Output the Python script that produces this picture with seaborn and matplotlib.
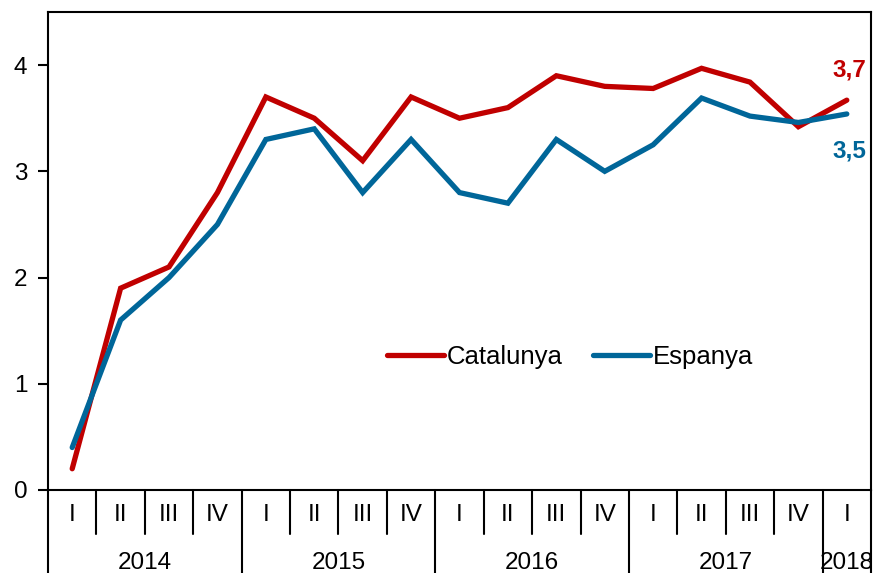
import numpy as np
import pandas as pd
import seaborn as sns
import matplotlib.pyplot as plt

# quarterly values, 2014 I .. 2018 I
quarters = ['I', 'II', 'III', 'IV'] * 4 + ['I']
years = ['2014', '2015', '2016', '2017', '2018']
catalunya = [0.2, 1.9, 2.1, 2.8, 3.7, 3.5, 3.1, 3.7, 3.5, 3.6, 3.9, 3.8, 3.78, 3.97, 3.84, 3.42, 3.67]
espanya = [0.4, 1.6, 2.0, 2.5, 3.3, 3.4, 2.8, 3.3, 2.8, 2.7, 3.3, 3.0, 3.25, 3.69, 3.52, 3.46, 3.54]

red = '#C00000'
blue = '#006699'
fs = 17.5

sns.set_style('white')
plt.rcParams['font.family'] = ['Liberation Sans', 'DejaVu Sans']
plt.rcParams['text.color'] = 'black'
plt.rcParams['xtick.color'] = 'black'
plt.rcParams['ytick.color'] = 'black'

n = len(quarters)
df = pd.DataFrame({
    'idx': list(range(n)) * 2,
    'valor': catalunya + espanya,
    'serie': ['Catalunya'] * n + ['Espanya'] * n,
})

fig = plt.figure(figsize=(8.73, 5.73), dpi=100)
ax = fig.add_axes([48 / 873, 83 / 573, 823 / 873, 478 / 573])

sns.lineplot(data=df, x='idx', y='valor', hue='serie',
             palette={'Catalunya': red, 'Espanya': blue},
             linewidth=3.8, ax=ax, legend=False)
for line in ax.get_lines():
    line.set_solid_capstyle('round')
    line.set_solid_joinstyle('miter')

ax.set_xlim(-0.5, n - 0.5)
ax.set_ylim(0, 4.5)
ax.set_yticks([0, 1, 2, 3, 4])
ax.set_yticklabels(['0', '1', '2', '3', '4'], fontsize=fs)
ax.tick_params(axis='y', direction='out', length=7, width=1.5, pad=8, left=True)
ax.set_xticks(range(n))
ax.set_xticklabels(quarters, fontsize=fs)
ax.tick_params(axis='x', length=0, pad=10)
ax.set_xlabel('')
ax.set_ylabel('')
for s in ax.spines.values():
    s.set_linewidth(1.5)
    s.set_color('black')

# category separators below the axis
trans = ax.get_xaxis_transform()
for i in range(n + 1):
    x = i - 0.5
    if i % 4 == 0 or i == n:
        ax.plot([x, x], [0, -0.2], color='black', lw=1.5, transform=trans, clip_on=False)
    else:
        ax.plot([x, x], [0, -0.092], color='black', lw=1.5, transform=trans, clip_on=False)

# year labels
for k, yr in enumerate(years):
    start = k * 4
    end = min(start + 4, n)
    xc = (start + end - 1) / 2
    ax.text(xc, -0.152, yr, transform=trans, ha='center', va='center', fontsize=fs)

# end labels
ax.annotate('3,7', (n - 1, catalunya[-1]), xytext=(2, 22), textcoords='offset points',
            ha='center', va='center', color=red, fontsize=fs, fontweight='bold')
ax.annotate('3,5', (n - 1, espanya[-1]), xytext=(2, -27), textcoords='offset points',
            ha='center', va='center', color=blue, fontsize=fs, fontweight='bold')

handles = [plt.Line2D([], [], color=red, lw=3.8, solid_capstyle='round'),
           plt.Line2D([], [], color=blue, lw=3.8, solid_capstyle='round')]
ax.legend(handles, ['Catalunya', 'Espanya'], loc='center left', bbox_to_anchor=(0.412, 0.278),
          ncol=2, frameon=False, fontsize=18.5, handlelength=2.2, handletextpad=0.12,
          columnspacing=1.2, borderpad=0, borderaxespad=0)

fig.savefig('out.png', dpi=100)
